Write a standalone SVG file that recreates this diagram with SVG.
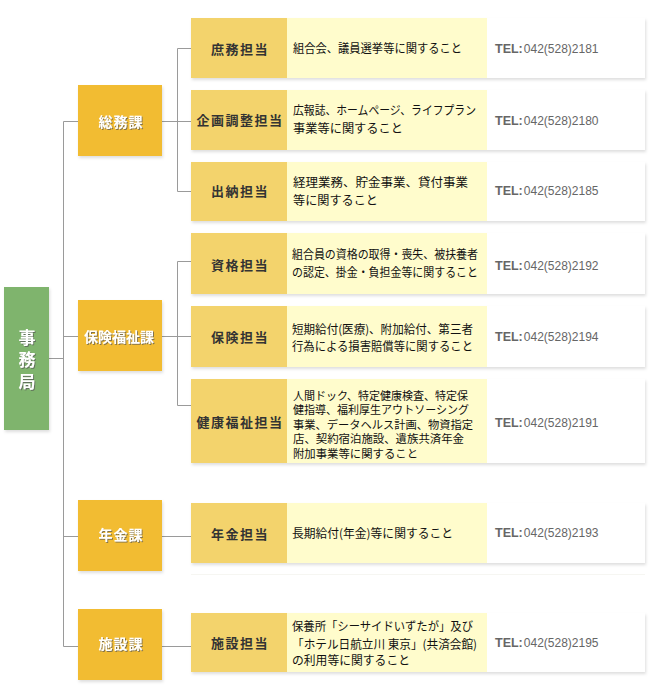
<svg xmlns="http://www.w3.org/2000/svg" width="650" height="696" viewBox="0 0 650 696">
<style>
.ln{stroke:#9a9a9a;stroke-width:1;fill:none}
.top{fill:#7fb46d}
.sec{fill:#f2bc31}
.sub{fill:#f3d36c}
.dsc{fill:#fffccc}
.tel{fill:#ffffff}
.tt{font-family:"Noto Sans CJK JP","Noto Sans",sans-serif;fill:#fff;font-weight:bold;font-size:17px;text-anchor:middle;writing-mode:vertical-rl;letter-spacing:5px}
.st{font-family:"Noto Sans CJK JP","Noto Sans",sans-serif;fill:#fff;font-weight:bold;font-size:14px;text-anchor:middle}
.dt{font-family:"Noto Sans CJK JP","Noto Sans",sans-serif;fill:#333;font-weight:bold;font-size:13px;text-anchor:middle;letter-spacing:1.5px}
.d{font-family:"Noto Sans CJK JP","Noto Sans",sans-serif;fill:#111;font-size:12px}
.d2{font-family:"Noto Sans CJK JP","Noto Sans",sans-serif;fill:#111;font-size:11.5px}
.tl{font-family:"Liberation Sans",Arial,sans-serif;fill:#666;font-size:12px}
.tl tspan.b{font-weight:bold;font-size:12.5px}
</style>
<defs>
<filter id="sh" x="-5%" y="-10%" width="115%" height="140%">
<feDropShadow dx="1" dy="2" stdDeviation="1.5" flood-color="#000" flood-opacity="0.13"/>
</filter>
<filter id="ts" x="-10%" y="-20%" width="130%" height="150%">
<feDropShadow dx="1" dy="1" stdDeviation="0.6" flood-color="#555" flood-opacity="0.7"/>
</filter>
</defs>
<rect width="650" height="696" fill="#fff"/>

<g id="connectors">
<path class="ln" d="M63.5 121.5V646.5M49 358.5H63.5M63.5 121.5H78M63.5 336.5H78M63.5 536.5H78M63.5 646.5H78"/>
<path class="ln" d="M162 121.5H191M177.5 48.5V191.5M177.5 48.5H191M177.5 191.5H191"/>
<path class="ln" d="M162 336.5H191M177.5 261.5V405.5M177.5 261.5H191M177.5 405.5H191"/>
<path class="ln" d="M162 536.5H191"/>
<path class="ln" d="M162 646.5H191"/>
</g>

<g id="jimukyoku">
<rect class="top" x="4" y="287" width="45" height="143" filter="url(#sh)"/>
<text class="tt" x="27" y="362" filter="url(#ts)">事務局</text>
</g>

<g id="somuka">
<rect class="sec" x="78" y="85" width="84" height="71" filter="url(#sh)"/>
<text class="st" x="121" y="126.5" letter-spacing="1" filter="url(#ts)">総務課</text>
</g>
<g id="hokenfukushika">
<rect class="sec" x="78" y="300" width="84" height="71" filter="url(#sh)"/>
<text class="st" x="119" y="341.5" filter="url(#ts)">保険福祉課</text>
</g>
<g id="nenkinka">
<rect class="sec" x="78" y="500" width="84" height="71" filter="url(#sh)"/>
<text class="st" x="121" y="539.5" letter-spacing="1" filter="url(#ts)">年金課</text>
</g>
<g id="shisetsuka">
<rect class="sec" x="78" y="609" width="84" height="71" filter="url(#sh)"/>
<text class="st" x="121" y="648.5" letter-spacing="1" filter="url(#ts)">施設課</text>
</g>

<g id="shomu">
<g filter="url(#sh)"><rect class="sub" x="191" y="18" width="96" height="60"/><rect class="dsc" x="287" y="18" width="200" height="60"/><rect class="tel" x="487" y="18" width="158" height="60"/></g>
<text class="dt" x="240" y="53.5">庶務担当</text>
<text class="d" x="293" y="52.5" textLength="169" lengthAdjust="spacingAndGlyphs">組合会、議員選挙等に関すること</text>
<text class="tl" x="495" y="52.5"><tspan class="b">TEL:</tspan><tspan dx="1">042(528)2181</tspan></text>
</g>

<g id="kikaku">
<g filter="url(#sh)"><rect class="sub" x="191" y="90" width="96" height="60"/><rect class="dsc" x="287" y="90" width="200" height="60"/><rect class="tel" x="487" y="90" width="158" height="60"/></g>
<text class="dt" x="240" y="124.5">企画調整担当</text>
<text class="d" x="293" y="114.5" textLength="183" lengthAdjust="spacingAndGlyphs">広報誌、ホームページ、ライフプラン</text>
<text class="d" x="293" y="132.5" textLength="110" lengthAdjust="spacingAndGlyphs">事業等に関すること</text>
<text class="tl" x="495" y="124.5"><tspan class="b">TEL:</tspan><tspan dx="1">042(528)2180</tspan></text>
</g>

<g id="suito">
<g filter="url(#sh)"><rect class="sub" x="191" y="162" width="96" height="59"/><rect class="dsc" x="287" y="162" width="200" height="59"/><rect class="tel" x="487" y="162" width="158" height="59"/></g>
<text class="dt" x="240" y="196">出納担当</text>
<text class="d" x="293" y="186.5" textLength="175" lengthAdjust="spacingAndGlyphs">経理業務、貯金事業、貸付事業</text>
<text class="d" x="293" y="204.5" textLength="85" lengthAdjust="spacingAndGlyphs">等に関すること</text>
<text class="tl" x="495" y="195"><tspan class="b">TEL:</tspan><tspan dx="1">042(528)2185</tspan></text>
</g>

<g id="shikaku">
<g filter="url(#sh)"><rect class="sub" x="191" y="233" width="96" height="61"/><rect class="dsc" x="287" y="233" width="200" height="61"/><rect class="tel" x="487" y="233" width="158" height="61"/></g>
<text class="dt" x="240" y="270">資格担当</text>
<text class="d" x="292" y="258.5" textLength="186" lengthAdjust="spacingAndGlyphs">組合員の資格の取得・喪失、被扶養者</text>
<text class="d" x="292" y="277" textLength="186" lengthAdjust="spacingAndGlyphs">の認定、掛金・負担金等に関すること</text>
<text class="tl" x="495" y="269.5"><tspan class="b">TEL:</tspan><tspan dx="1">042(528)2192</tspan></text>
</g>

<g id="hoken">
<g filter="url(#sh)"><rect class="sub" x="191" y="306" width="96" height="61"/><rect class="dsc" x="287" y="306" width="200" height="61"/><rect class="tel" x="487" y="306" width="158" height="61"/></g>
<text class="dt" x="240" y="342">保険担当</text>
<text class="d" x="292" y="334" textLength="181" lengthAdjust="spacingAndGlyphs">短期給付(医療)、附加給付、第三者</text>
<text class="d" x="292" y="351" textLength="181" lengthAdjust="spacingAndGlyphs">行為による損害賠償等に関すること</text>
<text class="tl" x="495" y="341"><tspan class="b">TEL:</tspan><tspan dx="1">042(528)2194</tspan></text>
</g>

<g id="kenko">
<g filter="url(#sh)"><rect class="sub" x="191" y="379" width="96" height="84"/><rect class="dsc" x="287" y="379" width="200" height="84"/><rect class="tel" x="487" y="379" width="158" height="84"/></g>
<text class="dt" x="240" y="426.5">健康福祉担当</text>
<text class="d2" x="293" y="399.5" textLength="175" lengthAdjust="spacingAndGlyphs">人間ドック、特定健康検査、特定保</text>
<text class="d2" x="293" y="414" textLength="176" lengthAdjust="spacingAndGlyphs">健指導、福利厚生アウトソーシング</text>
<text class="d2" x="293" y="428.5" textLength="180" lengthAdjust="spacingAndGlyphs">事業、データヘルス計画、物資指定</text>
<text class="d2" x="293" y="443" textLength="171" lengthAdjust="spacingAndGlyphs">店、契約宿泊施設、遺族共済年金</text>
<text class="d2" x="293" y="457.5" textLength="125" lengthAdjust="spacingAndGlyphs">附加事業等に関すること</text>
<text class="tl" x="495" y="427"><tspan class="b">TEL:</tspan><tspan dx="1">042(528)2191</tspan></text>
</g>

<g id="nenkin">
<g filter="url(#sh)"><rect class="sub" x="191" y="503" width="96" height="60"/><rect class="dsc" x="287" y="503" width="200" height="60"/><rect class="tel" x="487" y="503" width="158" height="60"/></g>
<line x1="191" y1="574.5" x2="645" y2="574.5" stroke="#f6f6f2" stroke-width="1"/>
<text class="dt" x="240" y="538.5">年金担当</text>
<text class="d" x="292" y="537.5" textLength="161" lengthAdjust="spacingAndGlyphs">長期給付(年金)等に関すること</text>
<text class="tl" x="495" y="536.5"><tspan class="b">TEL:</tspan><tspan dx="1">042(528)2193</tspan></text>
</g>

<g id="shisetsu">
<g filter="url(#sh)"><rect class="sub" x="191" y="613" width="96" height="59"/><rect class="dsc" x="287" y="613" width="200" height="59"/><rect class="tel" x="487" y="613" width="158" height="59"/></g>
<text class="dt" x="240" y="647.5">施設担当</text>
<text class="d" x="292" y="631" textLength="181" lengthAdjust="spacingAndGlyphs">保養所「シーサイドいずたが」及び</text>
<text class="d" x="292" y="648.5" textLength="185" lengthAdjust="spacingAndGlyphs">「ホテル日航立川 東京」(共済会館)</text>
<text class="d" x="292" y="665" textLength="118" lengthAdjust="spacingAndGlyphs">の利用等に関すること</text>
<text class="tl" x="495" y="647"><tspan class="b">TEL:</tspan><tspan dx="1">042(528)2195</tspan></text>
</g>
</svg>
